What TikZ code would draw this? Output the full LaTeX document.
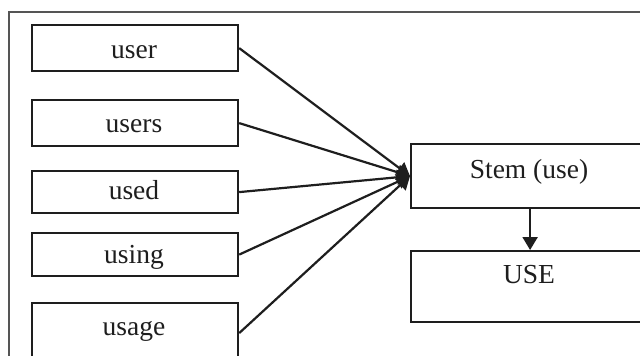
\documentclass[tikz,border=0pt]{standalone}
\usepackage{fontspec}
\setmainfont{Liberation Serif}
\usetikzlibrary{arrows.meta}
\definecolor{ink}{HTML}{1e1e1e}
\definecolor{framegray}{HTML}{555555}
\tikzset{
  wordbox/.style={draw=ink, line width=2.2pt, inner sep=0pt, anchor=north west},
  word/.style={anchor=base, text=ink, inner sep=0pt, font=\fontsize{27.5}{30}\selectfont},
  conn/.style={draw=ink, line width=2.2pt, -{Triangle[length=13pt,width=15pt]}},
}
\begin{document}
\begin{tikzpicture}[x=1pt, y=-1pt]
  \useasboundingbox (0,0) rectangle (640,356);
  \clip (0,0) rectangle (640,356);
  \fill[white] (0,0) rectangle (640,356);
  % outer frame, running past the right and bottom edges
  \draw[framegray, line width=2pt] (9,12) rectangle (660,380);

  % word forms on the left
  \node[wordbox, minimum width=206pt, minimum height=46pt] (user)  at (31,24)  {};
  \node[wordbox, minimum width=206pt, minimum height=46pt] (users) at (31,99)  {};
  \node[wordbox, minimum width=206pt, minimum height=42pt] (used)  at (31,170) {};
  \node[wordbox, minimum width=206pt, minimum height=43pt] (using) at (31,232) {};
  \node[wordbox, minimum width=206pt, minimum height=60pt] (usage) at (31,302) {};

  \node[word] (tuser)  at (134,58)  {user};
  \node[word] (tusers) at (134,132) {users};
  \node[word] (tused)  at (134,199) {used};
  \node[word] (tusing) at (134,263) {using};
  \node[word] (tusage) at (134,335) {usage};

  % stem and lemma on the right
  \node[wordbox, minimum width=238pt, minimum height=64pt] (stem) at (410,143) {};
  \node[wordbox, minimum width=238pt, minimum height=71pt] (lemma) at (410,250) {};
  \node[word] (tstem)  at (529,178) {Stem (use)};
  \node[word] (tlemma) at (529,283) {USE};

  % connectors
  \draw[conn] (user.east)  -- (stem.west);
  \draw[conn] (users.east) -- (stem.west);
  \draw[conn] (used.east)  -- (stem.west);
  \draw[conn] (using.east) -- (stem.west);
  \draw[conn] (usage.east) -- (stem.west);
  \draw[conn] (stem.south) -- (lemma.north);
\end{tikzpicture}
\end{document}
